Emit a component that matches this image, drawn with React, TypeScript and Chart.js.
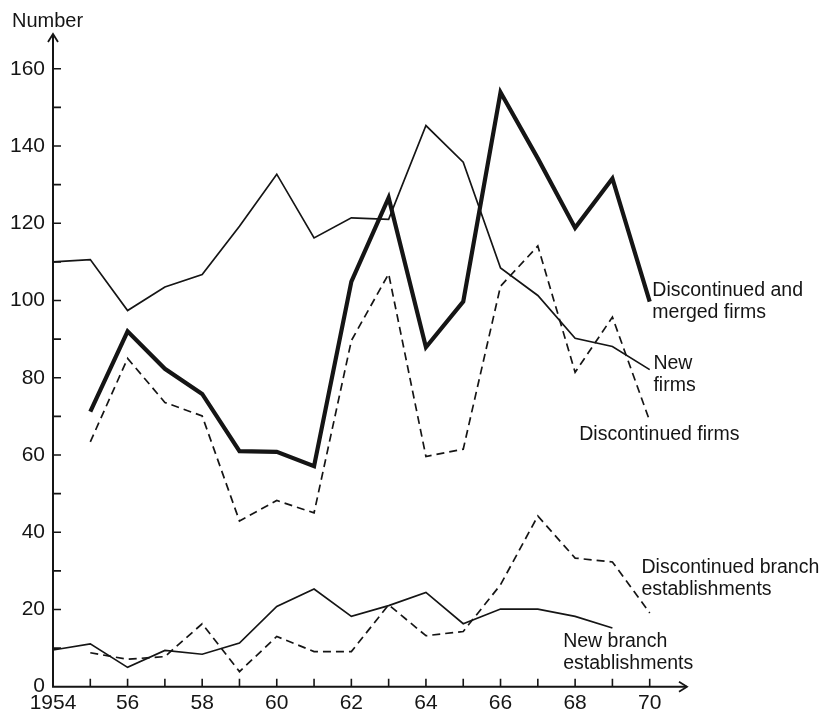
import React, { useEffect, useRef } from "react";
import { Chart, registerables } from "chart.js";

Chart.register(...registerables);

// ---- Data ----
const years = [1954, 1955, 1956, 1957, 1958, 1959, 1960, 1961, 1962, 1963, 1964, 1965, 1966, 1967, 1968, 1969, 1970];

const newFirms = [110, 110.6, 97.4, 103.5, 106.7, 119.2, 132.7, 116.2, 121.4, 121, 145.3, 135.8, 108.4, 101.3, 90.2, 88.1, 82.1];
const discontinuedMerged = [null, 71.2, 92, 82.3, 75.8, 61, 60.8, 57.1, 104.9, 126.6, 87.9, 99.7, 153.9, 136.8, 118.8, 131.6, 99.7];
const discontinuedFirms = [null, 63.4, 85, 73.6, 70.1, 42.9, 48.2, 45, 89.6, 106.9, 59.6, 61.5, 103.7, 114.1, 81.4, 95.7, 68.8];
const newBranch = [9.5, 11.1, 5, 9.4, 8.4, 11.3, 20.8, 25.3, 18.2, 21, 24.4, 16.3, 20.1, 20.1, 18.2, 15.2, null];
const discontinuedBranch = [null, 8.8, 7.1, 7.8, 16.3, 3.9, 13, 9.1, 9.1, 21.2, 13.2, 14.3, 26.4, 44.2, 33.3, 32.3, 19.1];

const yAxisTitle = "Number";
const xTickLabel = (v: number) => (v === 1954 ? "1954" : String(v % 100));

// Series labels: text lines and anchor (year, value) for first baseline
const seriesLabels = [
  { lines: ["Discontinued and", "merged firms"], x: 1970.07, y: 101.2 },
  { lines: ["New", "firms"], x: 1970.1, y: 82.3 },
  { lines: ["Discontinued firms"], x: 1968.11, y: 63.9 },
  { lines: ["Discontinued branch", "establishments"], x: 1969.78, y: 29.5 },
  { lines: ["New branch", "establishments"], x: 1967.68, y: 10.4 },
];

const FONT = "'Liberation Sans', Arial, Helvetica, sans-serif";
const INK = "#151515";

const toPoints = (vals: (number | null)[]) =>
  years.map((yr, i) => ({ x: yr, y: vals[i] }));

const axesPlugin = {
  id: "axesDecor",
  beforeDatasetsDraw(chart: any) {
    const { ctx, chartArea, scales } = chart;
    const xs = scales.x;
    const ys = scales.y;
    const ox = xs.getPixelForValue(1954);
    const oy = ys.getPixelForValue(0);
    ctx.save();
    ctx.strokeStyle = INK;
    ctx.fillStyle = INK;
    ctx.lineWidth = 2;
    ctx.lineCap = "butt";
    // axes lines
    ctx.beginPath();
    ctx.moveTo(ox, oy + 1);
    ctx.lineTo(ox, chartArea.top);
    ctx.moveTo(ox - 1, oy);
    ctx.lineTo(chartArea.right, oy);
    ctx.stroke();
    // arrow heads
    ctx.lineWidth = 1.8;
    ctx.beginPath();
    ctx.moveTo(ox - 5, chartArea.top + 8);
    ctx.lineTo(ox, chartArea.top);
    ctx.lineTo(ox + 5, chartArea.top + 8);
    ctx.moveTo(chartArea.right - 8, oy - 5);
    ctx.lineTo(chartArea.right, oy);
    ctx.lineTo(chartArea.right - 8, oy + 5);
    ctx.stroke();
    // tick marks (inward)
    ctx.lineWidth = 1.6;
    ctx.beginPath();
    ys.ticks.forEach((t: any) => {
      if (t.value <= 0 || t.value > 160) return;
      const p = ys.getPixelForValue(t.value);
      ctx.moveTo(ox, p);
      ctx.lineTo(ox + 8, p);
    });
    xs.ticks.forEach((t: any) => {
      if (t.value <= 1954 || t.value > 1970) return;
      const p = xs.getPixelForValue(t.value);
      ctx.moveTo(p, oy);
      ctx.lineTo(p, oy - 8);
    });
    ctx.stroke();
    ctx.restore();
  },
  afterDraw(chart: any) {
    const { ctx, chartArea, scales } = chart;
    const xs = scales.x;
    const ys = scales.y;
    ctx.save();
    ctx.fillStyle = INK;
    ctx.textAlign = "left";
    ctx.textBaseline = "alphabetic";
    // axis title
    ctx.font = `20px ${FONT}`;
    ctx.fillText(yAxisTitle, chartArea.left - 41, chartArea.top - 7);
    // series labels
    ctx.font = `19.5px ${FONT}`;
    seriesLabels.forEach((lab) => {
      const px = xs.getPixelForValue(lab.x);
      const py = ys.getPixelForValue(lab.y);
      lab.lines.forEach((line, i) => {
        ctx.fillText(line, px, py + i * 22.5);
      });
    });
    ctx.restore();
  },
};

export default function App() {
  const canvasRef = useRef<HTMLCanvasElement | null>(null);

  useEffect(() => {
    if (!canvasRef.current) return;
    const thin = { borderColor: INK, pointRadius: 0, fill: false, tension: 0, borderJoinStyle: "miter" as const, borderCapStyle: "butt" as const };
    const chart = new Chart(canvasRef.current, {
      type: "line",
      data: {
        datasets: [
          { ...thin, label: "New firms", data: toPoints(newFirms), borderWidth: 1.7 },
          { ...thin, label: "Discontinued and merged firms", data: toPoints(discontinuedMerged), borderWidth: 4.2 },
          { ...thin, label: "Discontinued firms", data: toPoints(discontinuedFirms), borderWidth: 1.7, borderDash: [8, 5] },
          { ...thin, label: "New branch establishments", data: toPoints(newBranch), borderWidth: 1.7 },
          { ...thin, label: "Discontinued branch establishments", data: toPoints(discontinuedBranch), borderWidth: 1.7, borderDash: [8, 5] },
        ] as any,
      },
      options: {
        responsive: false,
        animation: false,
        spanGaps: false,
        layout: { padding: { top: 34, right: 137, left: 0, bottom: 0 } },
        plugins: { legend: { display: false }, tooltip: { enabled: false } },
        scales: {
          x: {
            type: "linear",
            min: 1954,
            max: 1971,
            border: { display: false },
            grid: { display: false, drawTicks: false },
            ticks: {
              stepSize: 1,
              autoSkip: false,
              maxRotation: 0,
              padding: 4,
              color: INK,
              font: { family: FONT, size: 21 },
              callback: (v: any) => (v % 2 === 0 && v <= 1970 ? xTickLabel(v) : ""),
            },
            afterFit: (s: any) => {
              s.height = 23.3;
            },
          },
          y: {
            min: 0,
            max: 169,
            border: { display: false },
            grid: { display: false, drawTicks: false },
            afterBuildTicks: (s: any) => {
              s.ticks = s.ticks.filter((t: any) => t.value % 10 === 0 && t.value <= 160);
            },
            ticks: {
              stepSize: 10,
              autoSkip: false,
              padding: 8,
              color: INK,
              font: { family: FONT, size: 21 },
              callback: (v: any) => (v % 20 === 0 ? String(v) : ""),
            },
            afterFit: (s: any) => {
              s.width = 53;
            },
          },
        },
      } as any,
      plugins: [axesPlugin],
    });
    return () => chart.destroy();
  }, []);

  return (
    <div style={{ position: "absolute", left: 0, top: 0, width: 824, height: 710, background: "#fff" }}>
      <canvas ref={canvasRef} width={824} height={710} />
    </div>
  );
}
